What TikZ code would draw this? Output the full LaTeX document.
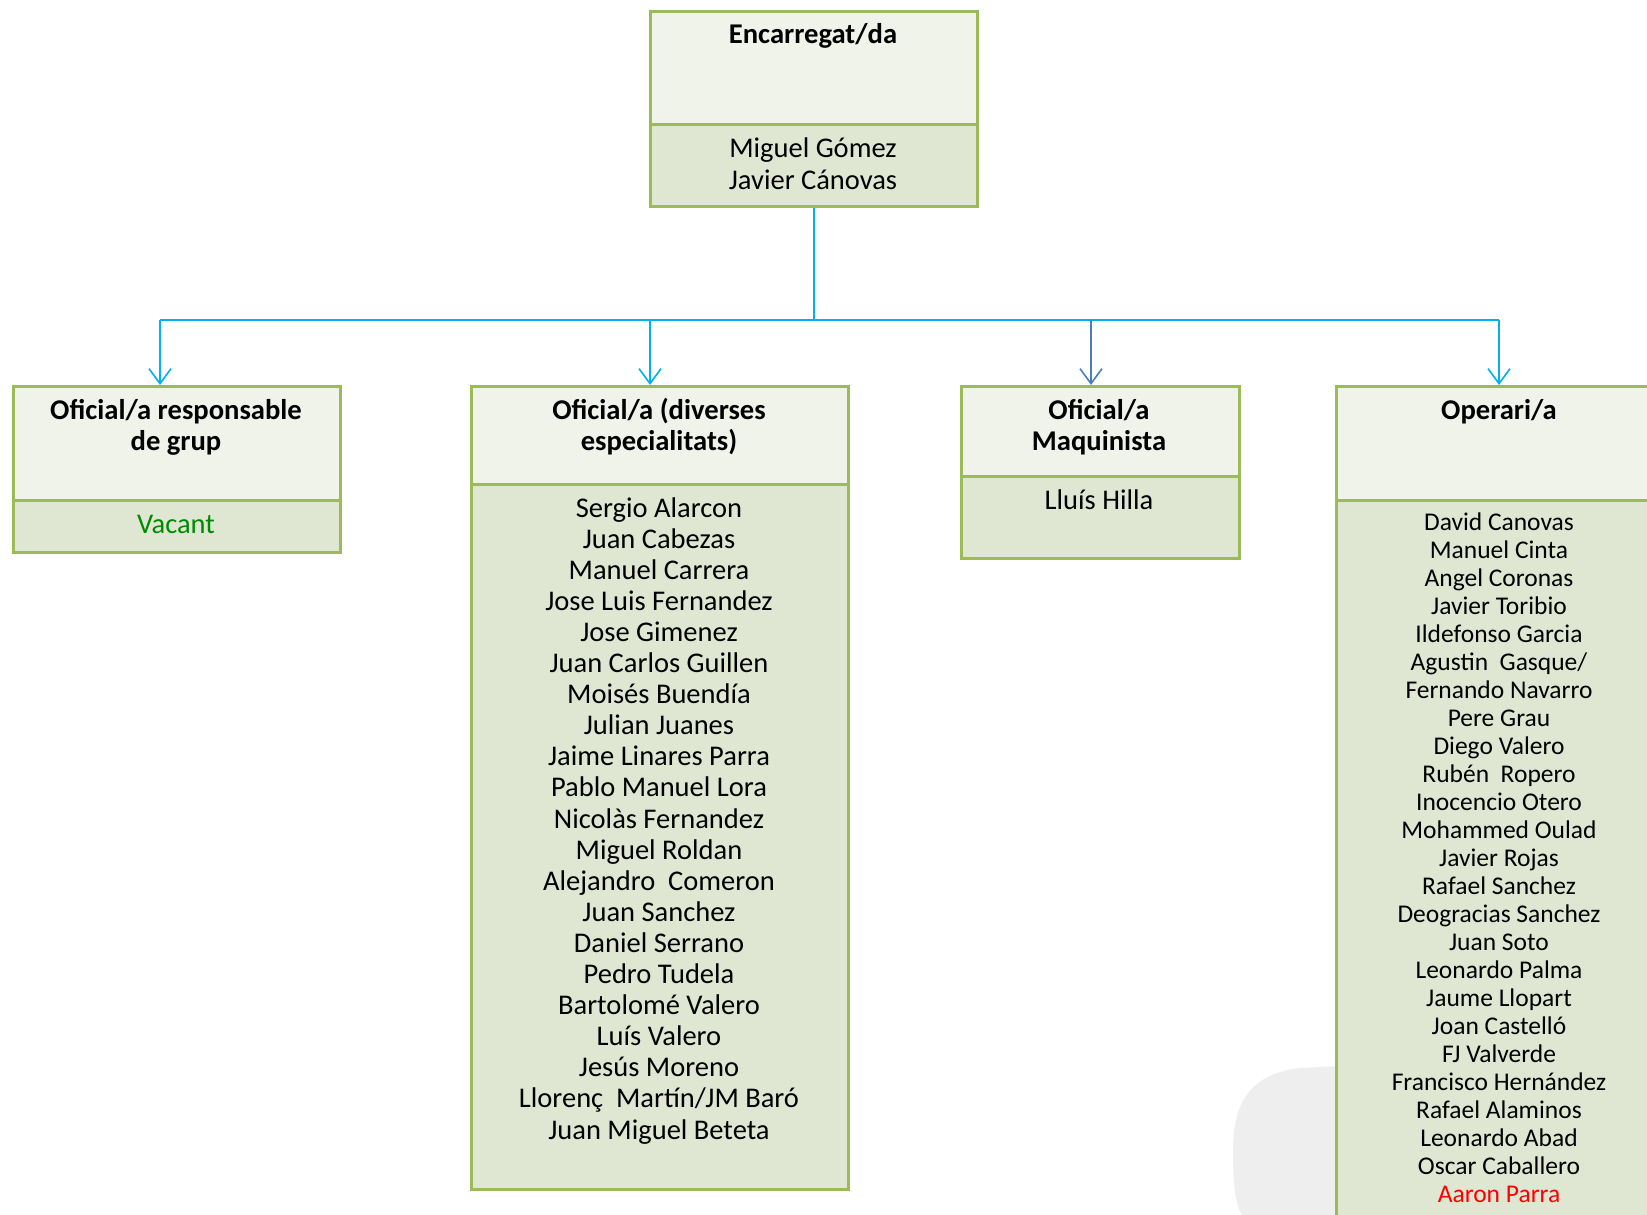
\documentclass[tikz,border=0pt]{standalone}
\usepackage{fontspec}
\setmainfont{Carlito}
\usetikzlibrary{arrows.meta}
\definecolor{bgreen}{HTML}{9BBB59}
\definecolor{hfill}{HTML}{EFF3EA}
\definecolor{nfill}{HTML}{DFE7D3}
\definecolor{conn}{HTML}{00B0F0}
\definecolor{conndark}{HTML}{4A7EBB}
\definecolor{vgreen}{HTML}{008A00}
\definecolor{blob}{HTML}{EEEEEE}
\tikzset{
  part/.style={draw=bgreen, line width=3pt, rectangle, inner sep=0pt, anchor=north west},
  hdr/.style={part, fill=hfill},
  nms/.style={part, fill=nfill},
  ttl/.style={font=\fontsize{28.6}{32}\selectfont\bfseries, anchor=base, inner sep=0pt},
  nm/.style={font=\fontsize{28.5}{32}\selectfont, anchor=base, inner sep=0pt},
  nmsmall/.style={font=\fontsize{25.5}{28}\selectfont, anchor=base, inner sep=0pt},
  link/.style={draw=conn, line width=1.6pt},
  arr/.style={link, -{Straight Barb[length=15pt,width=22pt,line width=1.6pt]}},
}
\begin{document}
\begin{tikzpicture}[x=1pt,y=-1pt]
\useasboundingbox (0,0) rectangle (1647,1215);
% grey blob behind right box
\fill[blob] (1340,1066) -- (1300,1068) .. controls (1245,1074) and (1233,1110) .. (1233,1150) .. controls (1233,1190) and (1236,1205) .. (1242,1215) -- (1340,1215) -- cycle;

% top box
\node[hdr, minimum width=327pt, minimum height=113pt] (toph) at (649,10) {};
\node[nms, minimum width=327pt, minimum height=82pt] (topn) at (649,123) {};
\node[ttl] (topt) at (813,44) {Encarregat/da};
\node[nm] (topn1) at (813,157) {Miguel Gómez};
\node[nm] (topn2) at (813,189) {Javier Cánovas};

% box 1
\node[hdr, minimum width=327pt, minimum height=114pt] (b1h) at (12,385) {};
\node[nms, minimum width=327pt, minimum height=52pt] (b1n) at (12,499) {};
\node[ttl] (b1t1) at (176,419) {Oficial/a responsable};
\node[ttl] (b1t2) at (176,450) {de grup};
\node[nm, text=vgreen] (b1v) at (176,533) {Vacant};

% box 2
\node[hdr, minimum width=377pt, minimum height=98pt] (b2h) at (470,385) {};
\node[nms, minimum width=377pt, minimum height=705pt] (b2n) at (470,483) {};
\node[ttl] (b2t1) at (659,419) {Oficial/a (diverses};
\node[ttl] (b2t2) at (659,450) {especialitats)};
\foreach \t [count=\i] in {Sergio Alarcon, Juan Cabezas, Manuel Carrera, Jose Luis Fernandez, Jose Gimenez, Juan Carlos Guillen, Moisés Buendía, Julian Juanes, Jaime Linares Parra, Pablo Manuel Lora, Nicolàs Fernandez, Miguel Roldan, Alejandro~ Comeron, Juan Sanchez, Daniel Serrano, Pedro Tudela, Bartolomé Valero, Luís Valero, Jesús Moreno, Llorenç~ Martín/JM Baró, Juan Miguel Beteta}
  \node[nm] (b2l\i) at (659,{517+31.1*(\i-1)}) {\t};

% box 3
\node[hdr, minimum width=278pt, minimum height=90pt] (b3h) at (960,385) {};
\node[nms, minimum width=278pt, minimum height=82pt] (b3n) at (960,475) {};
\node[ttl] (b3t1) at (1099,419) {Oficial/a};
\node[ttl] (b3t2) at (1099,450) {Maquinista};
\node[nm] (b3l1) at (1099,509) {Lluís Hilla};

% box 4
\node[hdr, minimum width=328pt, minimum height=114pt] (b4h) at (1335,385) {};
\node[nms, minimum width=328pt, minimum height=740pt] (b4n) at (1335,499) {};
\node[ttl] (b4t) at (1499,419) {Operari/a};
\foreach \t [count=\i] in {David Canovas, Manuel Cinta, Angel Coronas, Javier Toribio, Ildefonso Garcia, Agustin~ Gasque/, Fernando Navarro, Pere Grau, Diego Valero, Rubén~ Ropero, Inocencio Otero, Mohammed Oulad, Javier Rojas, Rafael Sanchez, Deogracias Sanchez, Juan Soto, Leonardo Palma, Jaume Llopart, Joan Castelló, FJ Valverde, Francisco Hernández, Rafael Alaminos, Leonardo Abad, Oscar Caballero}
  \node[nmsmall] (b4l\i) at (1499,{530+28*(\i-1)}) {\t};
\node[nmsmall, text=red] (b4l25) at (1499,{530+28*24}) {Aaron Parra};

% connectors
\coordinate (jc) at (topn.south |- 0,320);
\coordinate (j1) at (160,320);
\coordinate (j2) at (650,320);
\coordinate (j3) at (1091,320);
\coordinate (j4) at (1499,320);
\draw[link, line width=2.6pt] (topn.south) -- (jc);
\draw[link] (j1) -- (j4);
\draw[arr] (j1) -- (j1 |- b1h.north);
\draw[arr] (j2) -- (j2 |- b2h.north);
\draw[arr, draw=conndark, line width=2.2pt] (j3) -- (j3 |- b3h.north);
\draw[arr] (j4) -- (j4 |- b4h.north);
\end{tikzpicture}
\end{document}
